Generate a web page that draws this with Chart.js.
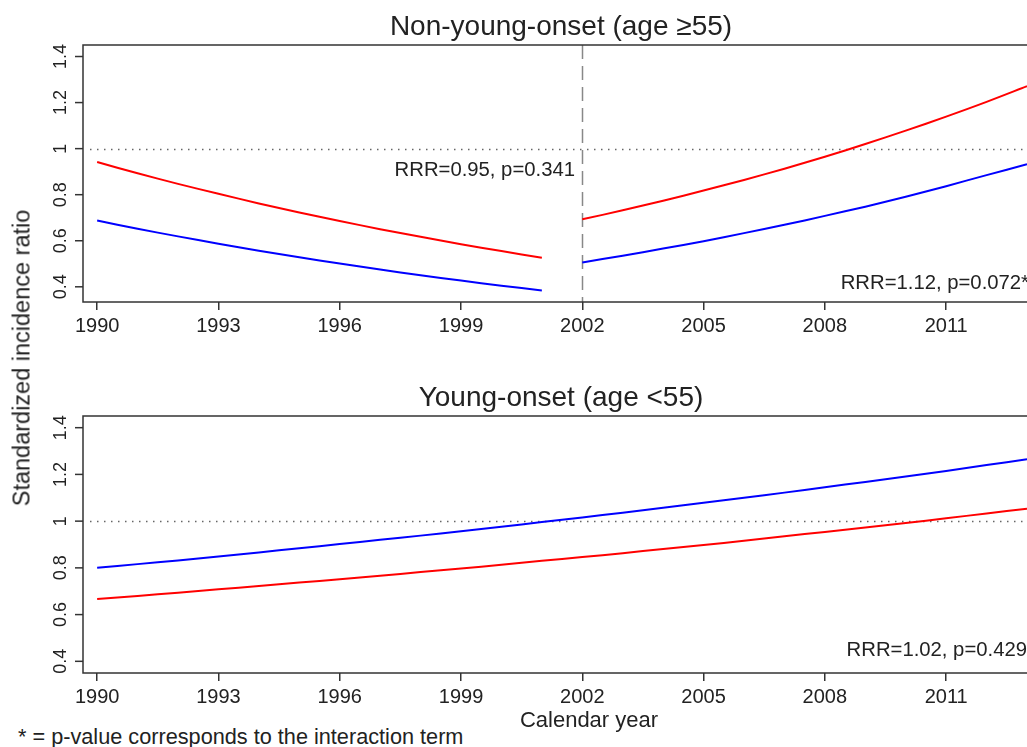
<!DOCTYPE html>
<html>
<head>
<meta charset="utf-8">
<script src="https://cdn.jsdelivr.net/npm/chart.js@4.4.1/dist/chart.umd.min.js"></script>
<style>
  body { margin: 0; background: #fff; font-family: "Liberation Sans", Arial, sans-serif; color: #222; }
  #wrap { position: relative; width: 1027px; height: 747px; overflow: hidden; }
  canvas { position: absolute; left: 0; }
  .txt { position: absolute; white-space: nowrap; color: #222; }
</style>
</head>
<body>
<div id="wrap">
  <canvas id="top" width="1027" height="345" style="top:0"></canvas>
  <canvas id="bottom" width="1027" height="345" style="top:371px"></canvas>
  <div class="txt" style="left:22px; top:358px; font-size:23.5px; transform: translate(-50%,-50%) rotate(-90deg);">Standardized incidence ratio</div>
  <div class="txt" style="left:589px; top:720px; font-size:22px; transform: translate(-50%,-50%);">Calendar year</div>
  <div class="txt" style="left:18px; top:737px; font-size:21.7px; transform: translateY(-50%);">* = p-value corresponds to the interaction term</div>
</div>
<script>
// years
const yearsPre = [1990, 1991, 1992, 1993, 1994, 1995, 1996, 1997, 1998, 1999, 2000, 2001];
const yearsPost = [2002, 2003, 2004, 2005, 2006, 2007, 2008, 2009, 2010, 2011, 2012, 2013];
const yearsAll = yearsPre.concat(yearsPost);
const xTicks = [1990, 1993, 1996, 1999, 2002, 2005, 2008, 2011];
const yTicks = [0.4, 0.6, 0.8, 1, 1.2, 1.4];

// non-young-onset (age >=55)
const oldRedPre = [0.942, 0.893, 0.847, 0.804, 0.762, 0.723, 0.686, 0.650, 0.617, 0.585, 0.555, 0.526];
const oldBluePre = [0.688, 0.652, 0.619, 0.587, 0.557, 0.528, 0.501, 0.475, 0.450, 0.427, 0.405, 0.384];
const oldRedPost = [0.693, 0.732, 0.774, 0.818, 0.864, 0.913, 0.965, 1.020, 1.078, 1.139, 1.203, 1.271];
const oldBluePost = [0.506, 0.535, 0.566, 0.598, 0.633, 0.669, 0.708, 0.748, 0.791, 0.837, 0.885, 0.932];

// young-onset (age <55)
const youngBlue = [0.800, 0.816, 0.832, 0.849, 0.866, 0.884, 0.902, 0.920, 0.938, 0.957, 0.976, 0.996,
                   1.016, 1.036, 1.057, 1.079, 1.100, 1.122, 1.145, 1.168, 1.191, 1.215, 1.240, 1.265];
const youngRed = [0.667, 0.680, 0.694, 0.708, 0.722, 0.737, 0.751, 0.766, 0.782, 0.797, 0.813, 0.830,
                  0.846, 0.863, 0.881, 0.898, 0.916, 0.935, 0.954, 0.973, 0.992, 1.012, 1.033, 1.053];

const FONT = '"Liberation Sans", Arial, sans-serif';
const INK = '#222';

const pts = (xs, ys) => xs.map((x, i) => ({ x: x, y: ys[i] }));

function line(data, color) {
  return {
    data: data,
    borderColor: color,
    borderWidth: 2,
    pointRadius: 0,
    tension: 0.3,
    fill: false,
  };
}

// box, reference lines, rotated y labels, title, RRR note
const decor = {
  id: 'decor',
  beforeDatasetsDraw(chart, args, opts) {
    const { ctx, chartArea: a, scales: { x, y } } = chart;
    ctx.save();
    // dotted line at 1
    ctx.strokeStyle = '#666';
    ctx.lineWidth = 1.5;
    ctx.setLineDash([1.5, 5.5]);
    const y1 = Math.round(y.getPixelForValue(1)) + 0.5;
    ctx.beginPath();
    ctx.moveTo(a.left + 7, y1);
    ctx.lineTo(a.right, y1);
    ctx.stroke();
    // dashed break line
    if (opts.breakAt) {
      const xb = Math.round(x.getPixelForValue(opts.breakAt)) + 0.5;
      ctx.strokeStyle = '#888';
      ctx.lineWidth = 1.5;
      ctx.setLineDash([14, 7]);
      ctx.beginPath();
      ctx.moveTo(xb, a.top);
      ctx.lineTo(xb, a.bottom);
      ctx.stroke();
    }
    ctx.restore();
  },
  afterDraw(chart, args, opts) {
    const { ctx, chartArea: a, scales: { x, y } } = chart;
    ctx.save();
    // frame
    ctx.strokeStyle = '#333';
    ctx.lineWidth = 1.5;
    ctx.strokeRect(a.left, a.top, a.right - a.left + 20, a.bottom - a.top);
    // y ticks + rotated labels
    ctx.fillStyle = INK;
    ctx.font = '18px ' + FONT;
    ctx.textAlign = 'center';
    ctx.textBaseline = 'middle';
    yTicks.forEach(v => {
      const py = y.getPixelForValue(v);
      ctx.beginPath();
      ctx.moveTo(a.left - 8, py);
      ctx.lineTo(a.left, py);
      ctx.stroke();
      ctx.save();
      ctx.translate(a.left - 22, py);
      ctx.rotate(-Math.PI / 2);
      ctx.fillText(String(v), 0, 0);
      ctx.restore();
    });
    // title
    ctx.font = '28px ' + FONT;
    ctx.textBaseline = 'middle';
    ctx.fillText(opts.title, 561, opts.titleY);
    // RRR notes
    ctx.font = '20.3px ' + FONT;
    ctx.textAlign = 'right';
    (opts.notes || []).forEach(n => ctx.fillText(n.text, n.x, n.y));
    ctx.restore();
  }
};

function makeChart(id, datasets, yMin, opts) {
  return new Chart(document.getElementById(id), {
    type: 'line',
    data: { datasets: datasets },
    plugins: [decor],
    options: {
      responsive: false,
      animation: false,
      layout: { padding: { left: 0, right: 0, top: 45, bottom: 0 } },
      plugins: {
        legend: { display: false },
        tooltip: { enabled: false },
        decor: opts,
      },
      scales: {
        x: {
          type: 'linear',
          min: 1989.65,
          max: 2013,
          afterBuildTicks: s => { s.ticks = xTicks.map(v => ({ value: v })); },
          afterFit: s => { s.height = 43; },
          grid: { display: true, drawOnChartArea: false, tickLength: 8, color: '#333', lineWidth: 1.5 },
          border: { display: false },
          ticks: { color: INK, font: { family: FONT, size: 20 }, padding: 4, maxRotation: 0, callback: v => String(v) },
        },
        y: {
          type: 'linear',
          min: yMin,
          max: 1.45,
          afterBuildTicks: s => { s.ticks = yTicks.map(v => ({ value: v })); },
          afterFit: s => { s.width = 83; },
          grid: { display: false },
          border: { display: false },
          ticks: { display: false },
        },
      },
    },
  });
}

makeChart('top', [
  line(pts(yearsPre, oldRedPre), '#ff0000'),
  line(pts(yearsPre, oldBluePre), '#0000ff'),
  line(pts(yearsPost, oldRedPost), '#ff0000'),
  line(pts(yearsPost, oldBluePost), '#0000ff'),
], 0.334, {
  title: 'Non-young-onset (age \u226555)',
  titleY: 27,
  breakAt: 2002,
  notes: [
    { text: 'RRR=0.95, p=0.341', x: 575, y: 170 },
    { text: 'RRR=1.12, p=0.072*', x: 1029, y: 283 },
  ],
});

makeChart('bottom', [
  line(pts(yearsAll, youngBlue), '#0000ff'),
  line(pts(yearsAll, youngRed), '#ff0000'),
], 0.35, {
  title: 'Young-onset (age <55)',
  titleY: 27,
  breakAt: null,
  notes: [
    { text: 'RRR=1.02, p=0.429', x: 1027, y: 279 },
  ],
});
</script>
</body>
</html>
